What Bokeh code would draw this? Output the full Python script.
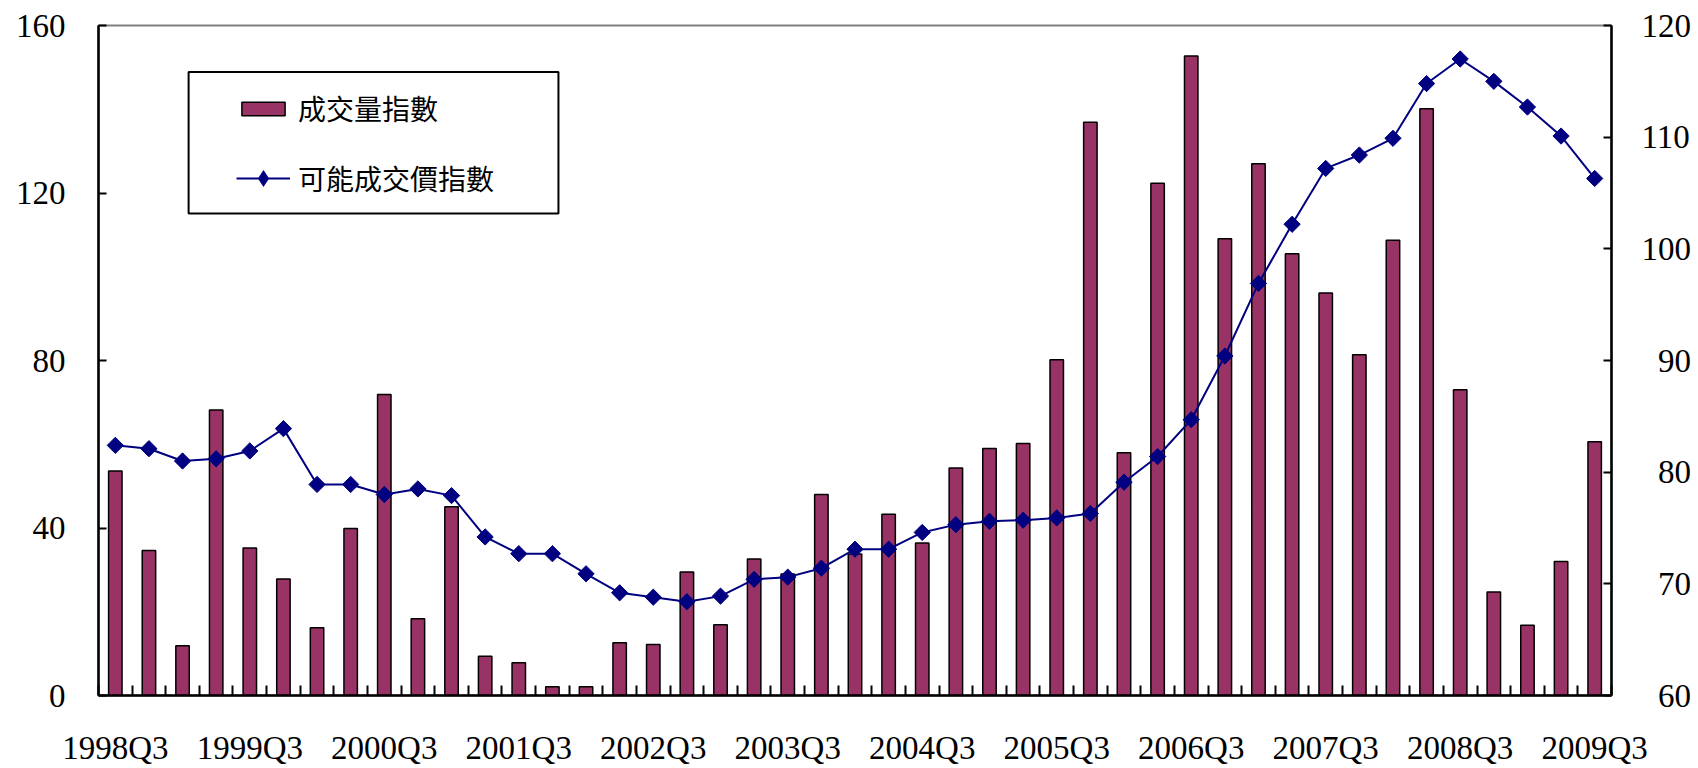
import math
from bokeh.plotting import figure
from bokeh.models import (Range1d, LinearAxis, FixedTicker, Legend, LegendItem,
                          BoxAnnotation, ColumnDataSource)
from bokeh.embed import file_html
from bokeh.resources import INLINE

quarters = []
for y in range(1998, 2010):
    for q in range(1, 5):
        if (y == 1998 and q < 3) or (y == 2009 and q > 3):
            continue
        quarters.append(f"{y}Q{q}")

volume_index = [53.6, 34.6, 11.9, 68.2, 35.2, 27.8, 16.2, 39.9, 71.9, 18.3,
                45.1, 9.4, 7.8, 2.1, 2.1, 12.6, 12.2, 29.5, 16.9, 32.6,
                29.0, 48.0, 33.8, 43.3, 36.4, 54.3, 59.0, 60.2, 80.2, 136.9,
                58.0, 122.3, 152.7, 109.1, 127.0, 105.5, 96.1, 81.4, 108.7, 140.1,
                73.0, 24.7, 16.8, 32.0, 60.6]

price_index = [82.4, 82.1, 81.0, 81.2, 81.9, 83.9, 78.9, 78.9, 78.0, 78.5,
               77.9, 74.2, 72.7, 72.7, 70.9, 69.2, 68.8, 68.4, 68.9, 70.4,
               70.6, 71.4, 73.1, 73.1, 74.6, 75.3, 75.6, 75.7, 75.9, 76.3,
               79.1, 81.4, 84.7, 90.4, 96.9, 102.2, 107.2, 108.4, 109.9, 114.8,
               117.0, 115.0, 112.7, 110.1, 106.3]

left_ticks = [0, 40, 80, 120, 160]
right_ticks = [60, 70, 80, 90, 100, 110, 120]

label_text_volume = "成交量指數"
label_text_price = "可能成交價指數"

idx = list(range(len(quarters)))
src = ColumnDataSource(dict(x=idx, q=quarters, vol=volume_index, price=price_index))

SERIF = "Liberation Serif"
FS = "33px"
NAVY = "#000080"

p = figure(width=1698, height=768, output_backend="svg", toolbar_location=None,
           x_range=Range1d(-0.5, len(quarters) - 0.5), y_range=Range1d(0, 160),
           min_border_left=98, min_border_right=87, min_border_top=25,
           min_border_bottom=73, x_axis_location=None, y_axis_location=None)
p.background_fill_color = "white"
p.border_fill_color = "white"
p.outline_line_color = "#808080"
p.outline_line_width = 2
p.xgrid.visible = False
p.ygrid.visible = False
p.extra_y_ranges = {"price": Range1d(60, 120)}


def style_axis(ax):
    ax.axis_line_color = "black"
    ax.axis_line_width = 2.5
    ax.major_tick_line_color = "black"
    ax.major_tick_line_width = 2
    ax.minor_tick_line_color = "black"
    ax.minor_tick_line_width = 2
    ax.major_label_text_font = SERIF
    ax.major_label_text_font_size = FS
    ax.major_label_text_color = "black"


yl = LinearAxis(ticker=FixedTicker(ticks=left_ticks))
style_axis(yl)
yl.major_tick_in = 8
yl.major_tick_out = 0
yl.minor_tick_in = 0
yl.minor_tick_out = 0
yl.major_label_standoff = 33
p.add_layout(yl, "left")

yr = LinearAxis(y_range_name="price", ticker=FixedTicker(ticks=right_ticks))
style_axis(yr)
yr.major_tick_in = 8
yr.major_tick_out = 0
yr.minor_tick_in = 0
yr.minor_tick_out = 0
yr.major_label_standoff = 30
yr.major_label_overrides = {t: ("\u2007" + str(t) if t < 100 else str(t)) for t in right_ticks}
p.add_layout(yr, "right")

label_pos = [i for i, q in enumerate(quarters) if q.endswith("Q3")]
boundaries = [i - 0.5 for i in range(len(quarters) + 1)]
xb = LinearAxis(ticker=FixedTicker(ticks=label_pos, minor_ticks=boundaries))
style_axis(xb)
xb.major_tick_in = 0
xb.major_tick_out = 0
xb.minor_tick_in = 10
xb.minor_tick_out = 0
xb.major_label_standoff = 34
xb.major_label_overrides = {i: quarters[i] for i in label_pos}
p.add_layout(xb, "below")

# glyphs
bars = p.vbar(x="x", top="vol", width=0.4, source=src, fill_color="#993366",
              line_color="black", line_width=1.5)
line = p.line(x="x", y="price", source=src, y_range_name="price",
              line_color=NAVY, line_width=2)
pts = p.scatter(x="x", y="price", source=src, y_range_name="price",
                marker="square", angle=math.pi / 4, size=11.5,
                fill_color=NAVY, line_color=NAVY)
# zero-size diamond used only for the legend swatch
leg_pts = p.scatter(x="x", y="price", source=src, y_range_name="price",
                    marker="diamond", size=0, fill_color=NAVY, line_color=None)

# legend frame
frame = BoxAnnotation(left=2.18, right=13.18, top=148.9, bottom=115.1,
                      fill_color="white", fill_alpha=1.0,
                      line_color="black", line_alpha=1.0, line_width=2,
                      level="underlay")
p.add_layout(frame)

legend1 = Legend(items=[LegendItem(label=label_text_volume, renderers=[bars])],
                 location=(138, 566), padding=0, margin=0,
                 glyph_width=54, glyph_height=17, label_height=42,
                 label_standoff=8, border_line_alpha=0, background_fill_alpha=0,
                 label_text_font="Noto Sans CJK TC", label_text_font_size="28px",
                 label_text_color="black")
p.add_layout(legend1, "center")

legend2 = Legend(items=[LegendItem(label=label_text_price, renderers=[line, leg_pts])],
                 location=(138, 496), padding=0, margin=0,
                 glyph_width=54, glyph_height=42, label_height=42,
                 label_standoff=8, border_line_alpha=0, background_fill_alpha=0,
                 label_text_font="Noto Sans CJK TC", label_text_font_size="28px",
                 label_text_color="black")
p.add_layout(legend2, "center")

open("out.html", "w").write(file_html(p, INLINE))
